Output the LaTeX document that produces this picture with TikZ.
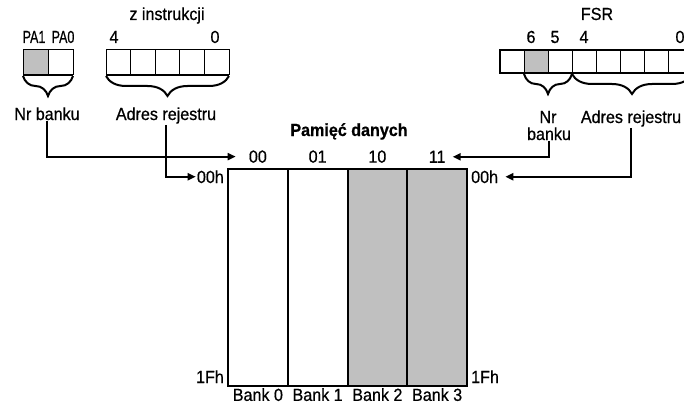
\documentclass[tikz,border=0pt]{standalone}
\usepackage{fontspec}
\setmainfont{Liberation Sans}[FakeStretch=0.92, FakeBold=0.6, BoldFeatures={FakeBold=0.8}]
\usetikzlibrary{positioning}
\usetikzlibrary{arrows.meta}
\usetikzlibrary{decorations.pathreplacing}
\definecolor{banksh}{HTML}{C0C0C0}
\tikzset{
        lbl/.style={font=\fontsize{17.5}{20}\selectfont, inner sep=1pt},
        % register cells
        regcell/.style={draw, line width=1pt, inner sep=0pt, outer sep=0pt, minimum width=25pt, minimum height=25pt},
        fsrcell/.style={regcell, minimum width=24pt, minimum height=23pt},
        % memory banks
        bankbox/.style={draw, line width=2pt, inner sep=0pt, outer sep=0pt, minimum width=59.75pt, minimum height=217pt},
        regbase/.style={line width=2.5pt},
        regbrace/.style={decorate, decoration={brace, mirror, amplitude=20pt, raise=1pt}, line width=2pt},
        conn/.style={->, line width=2pt}
}

\begin{document}
\begin{tikzpicture}[x=1pt, y=-1pt, >={Triangle[length=8pt, width=7pt]}]
    \useasboundingbox (0,0) rectangle (684,409);

    % bank select bits from the instruction
    \foreach \b/\f in {1/banksh, 0/white}
        \node[regcell, fill=\f] (pa\b) at ({35.5+(1-\b)*25}, 62.5) {};
    \draw[regbase] (pa1.south west) -- (pa0.south east);
    \draw[regbrace] (pa1.south west) -- (pa0.south east);
    \node[lbl, anchor=base] (pa1l) at (34,43) {\scalebox{0.78}[1]{PA1}};
    \node[lbl, anchor=base] (pa0l) at (63,43) {\scalebox{0.78}[1]{PA0}};
    \node[lbl, anchor=base] (nrL) at (47,120) {Nr banku};

    % address bits from the instruction
    \foreach \b in {4,...,0}
        \node[regcell, minimum width=24.6pt] (ins\b) at ({118.3+(4-\b)*24.6}, 62.5) {};
    \draw[regbase] (ins4.south west) -- (ins0.south east);
    \draw[regbrace] (ins4.south west) -- (ins0.south east);
    \node[lbl, anchor=base] (zinst) at (167,20) {z instrukcji};
    \node[lbl, anchor=base] (ins4l) at (114,43) {4};
    \node[lbl, anchor=base] (ins0l) at (215,43) {0};
    \node[lbl, anchor=base] (adrL) at (166,120) {Adres rejestru};

    % FSR register
    \foreach \b/\f in {7/white, 6/banksh, 5/white, 4/white, 3/white, 2/white, 1/white, 0/white}
        \node[fsrcell, fill=\f] (fsr\b) at ({512+(7-\b)*24}, 61.5) {};
    \draw[regbase] (fsr7.north west) rectangle (fsr0.south east);
    \draw[regbrace] (fsr6.south west) -- (fsr5.south east);
    \draw[regbrace] (fsr4.south west) -- (fsr0.south east);
    \node[lbl, anchor=base] (fsrl) at (597,20) {FSR};
    \node[lbl, anchor=base] (fsr6l) at (531,43) {6};
    \node[lbl, anchor=base] (fsr5l) at (555,43) {5};
    \node[lbl, anchor=base] (fsr4l) at (584,43) {4};
    \node[lbl, anchor=base] (fsr0l) at (680,43) {0};
    \node[lbl, anchor=base] (nrR) at (548,123) {Nr};
    \node[lbl, anchor=base] (bankuR) at (549,140) {banku};
    \node[lbl, anchor=base] (adrR) at (631,123) {Adres rejestru};

    % data memory
    \node[lbl, anchor=base] (mem) at (349,136) {\bfseries Pamięć danych};
    \foreach \i/\f/\t in {0/white/00, 1/white/01, 2/banksh/10, 3/banksh/11} {
        \node[bankbox, fill=\f, anchor=north west] (bank\i) at ({228+\i*59.75}, 169) {};
        \node[lbl, above=5pt of bank\i] (top\i) {\t};
        \node[lbl, below=1pt of bank\i] (name\i) {Bank \i};
    }
    \draw[line width=2.5pt] (bank0.north west) rectangle (bank3.south east);
    \node[lbl, anchor=base east] (h00L) at (225,183) {00h};
    \node[lbl, anchor=base west] (h00R) at (470,183) {00h};
    \node[lbl, anchor=base east] (h1fL) at (225,383) {1Fh};
    \node[lbl, anchor=base west] (h1fR) at (470,383) {1Fh};

    % connectors
    \draw[conn, shorten >=12pt] (nrL.south) |- (top0.west);
    \draw[conn] (adrL.south) |- (h00L.west);
    \draw[conn, shorten >=6pt] (bankuR.south) |- (top3.east);
    \draw[conn, shorten >=6pt] (adrR.south) |- (h00R.east);
\end{tikzpicture}
\end{document}
